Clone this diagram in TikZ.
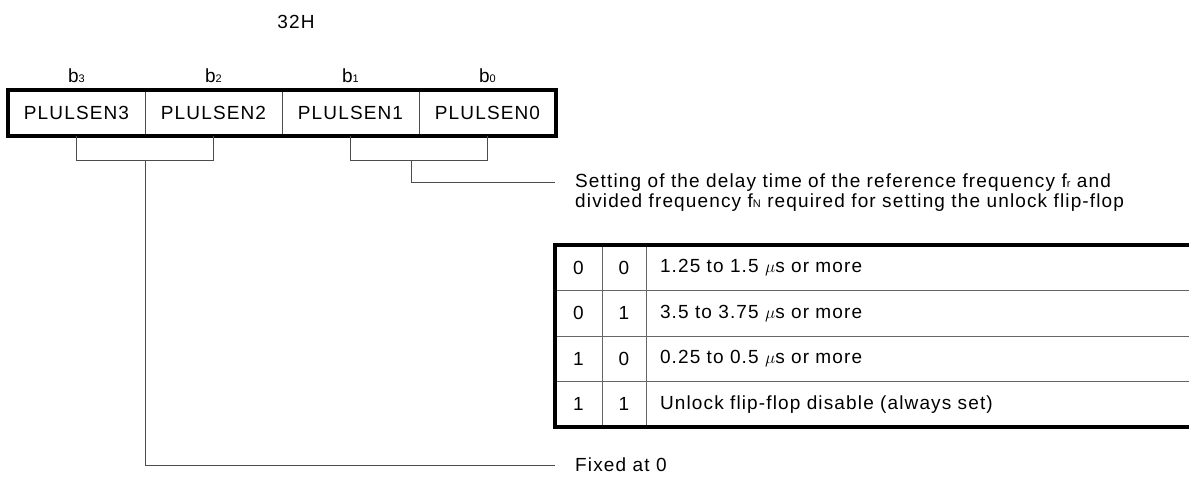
\documentclass[tikz,border=0pt]{standalone}
\usepackage{fontspec}
\setmainfont[LetterSpace=6]{Liberation Sans}
\usetikzlibrary{positioning}
\newcommand{\lowidx}[1]{{\fontsize{11}{11}\selectfont #1}}
\begin{document}
\begin{tikzpicture}[x=1pt,y=-1pt,font=\fontsize{19}{22}\selectfont,line join=miter]
	\tikzset{cell/.style={inner sep=0pt,outer sep=0pt,minimum height=45.5pt},
	reg/.style={cell,draw=black!70,line width=0.8pt,minimum height=46pt,minimum width=137pt},
	wire/.style={draw=black!70,line width=0.9pt},
	rule/.style={draw=black!60,line width=0.8pt},
	frame/.style={line width=3.2pt}}
	\useasboundingbox(0,0)rectangle(1189,485);
	% register 32H
	\node at (296,22)(addr){32H};
	\node[reg] at (76.5,113)(c3){PLULSEN3};
	\node[reg,right=0pt of c3](c2){PLULSEN2};
	\node[reg,right=0pt of c2](c1){PLULSEN1};
	\node[reg,right=0pt of c1](c0){PLULSEN0};
	\draw[frame](c3.north west)rectangle(c0.south east);
	\foreach \k in {0,...,3}
	\node[anchor=base] at (c\k.north |- 0,82)(b\k){b\lowidx{\k}};
	% brackets
	\draw[wire](c3.south)--++(0,24)-|(c2.south);
	\draw[wire](c1.south)--++(0,24)-|(c0.south);
	\coordinate(s3) at (145,160);
	\coordinate(s1) at (411,160);
	\node[anchor=base west,inner sep=0pt] at (575,187)(set1){Setting of the delay time of the reference frequency f\lowidx{r} and};
	\node[anchor=base west,inner sep=0pt] at (575,207)(set2){divided frequency f\lowidx{N} required for setting the unlock flip-flop};
	\node[anchor=west,inner sep=0pt] at (575,465)(fix){Fixed at 0};
	\draw[wire,shorten >=20pt](s1)|-(set1.west);
	\draw[wire,shorten >=20pt](s3)|-(fix.west);
	% table
	\foreach \p/\q/\t [count=\i] in {0/0/{1.25 to 1.5 $\mu$s or more},0/1/{3.5 to 3.75 $\mu$s or more},1/0/{0.25 to 0.5 $\mu$s or more},1/1/{Unlock flip-flop disable (always set)}}{
	\node[cell,minimum width=47pt,anchor=north west] at (555,{245+(\i-1)*45.5})(p\i){\p};
	\node[cell,minimum width=44pt,right=0pt of p\i](q\i){\q};
	\node[cell,minimum width=543pt,inner xsep=14pt,text width=515pt,align=left,right=0pt of q\i](t\i){\t};
	}
	\foreach \i in {1,2,3}
	\draw[rule](p\i.south west)--(t\i.south east);
	\draw[rule](p1.north east)--(p4.south east) (q1.north east)--(q4.south east);
	\draw[frame](t1.north east)--(p1.north west)--(p4.south west)--(t4.south east);
\end{tikzpicture}
\end{document}
